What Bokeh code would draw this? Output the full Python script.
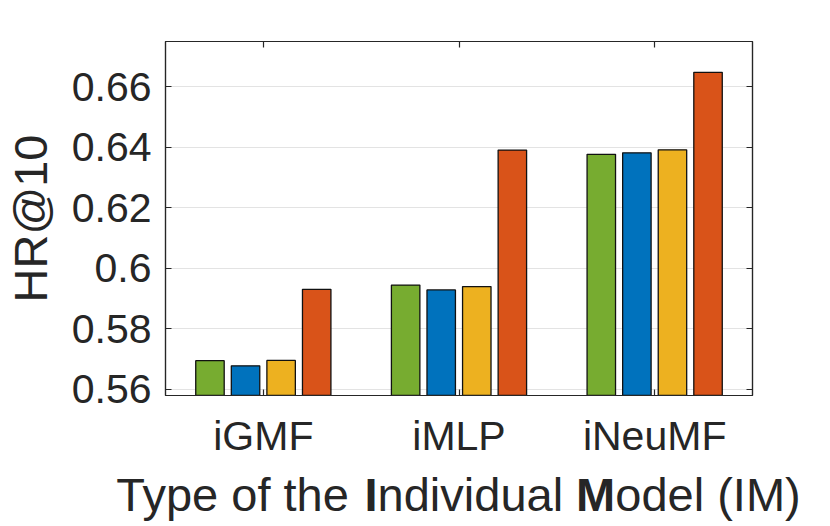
from bokeh.plotting import figure
from bokeh.layouts import column
from bokeh.models import (ColumnDataSource, Range1d, FixedTicker, LinearAxis,
                          CustomLabelingPolicy)
from bokeh.transform import dodge
from bokeh.embed import file_html
from bokeh.resources import INLINE
from bokeh.core.properties import value

# ---------------- data ----------------
categories = ["iGMF", "iMLP", "iNeuMF"]
series_names = ["Variant 1", "Variant 2", "Variant 3", "Variant 4"]
series_green = [0.5695, 0.5945, 0.6377]
series_blue = [0.5678, 0.5929, 0.6382]
series_yellow = [0.5696, 0.5940, 0.6392]
series_orange = [0.5931, 0.6391, 0.6648]
y_ticks = [0.56, 0.58, 0.60, 0.62, 0.64, 0.66]
y_tick_labels = ["0.56", "0.58", "0.6", "0.62", "0.64", "0.66"]
y_label = "HR@10"
x_label_parts = [("Type of the", "normal"), ("I", "bold"), ("ndividual", "normal"),
                 ("M", "bold"), ("odel (IM)", "normal")]

# ---------------- style / layout ----------------
colors = ["#77AC30", "#0072BD", "#EDB120", "#D95319"]
TXT = "#262626"
FONT = "Liberation Sans"
W, H = 830, 526
FL, FR, FT, FB = 164, 752, 41, 395      # frame edges in page pixels
H2 = 62                                  # strip below for the x-axis title
H1 = H - H2

idx = list(range(1, len(categories) + 1))
src = ColumnDataSource(dict(idx=idx, s0=series_green, s1=series_blue,
                            s2=series_yellow, s3=series_orange))

p = figure(width=W, height=H1, output_backend="svg", toolbar_location=None,
           x_range=Range1d(0.5, len(categories) + 0.5), y_range=Range1d(0.558, 0.675),
           min_border_left=FL, min_border_right=W - FR, min_border_top=FT,
           min_border_bottom=H1 - FB, background_fill_color="white",
           border_fill_color="white")
p.frame_align = False
p.outline_line_color = TXT
p.outline_line_width = 1.2

nb = 4
group_w = min(0.8, nb / (nb + 1.5))
spacing = group_w / nb
bar_w = 0.8 * spacing
for i, col in enumerate(["s0", "s1", "s2", "s3"]):
    p.vbar(x=dodge("idx", (i - (nb - 1) / 2) * spacing, range=p.x_range),
           top=col, bottom=0, width=bar_w, source=src, name=series_names[i],
           fill_color=colors[i], line_color="#111111", line_width=1.3)

xt = FixedTicker(ticks=idx)
yt = FixedTicker(ticks=y_ticks)

xa = p.xaxis[0]
xa.ticker = xt
xa.major_label_overrides = {k: v for k, v in zip(idx, categories)}
ya = p.yaxis[0]
ya.ticker = yt
ya.major_label_overrides = {k: v for k, v in zip(y_ticks, y_tick_labels)}
ya.axis_label = y_label
ya.axis_label_text_font = FONT
ya.axis_label_text_font_size = "47px"
ya.axis_label_text_font_style = "normal"
ya.axis_label_text_color = TXT
ya.axis_label_standoff = 12

for ax in (xa, ya):
    ax.major_tick_in = 6
    ax.major_tick_out = 0
    ax.minor_tick_line_color = None
    ax.axis_line_color = TXT
    ax.axis_line_width = 1.2
    ax.major_tick_line_color = TXT
    ax.major_tick_line_width = 1.2
    ax.major_label_text_font = FONT
    ax.major_label_text_color = TXT
    ax.major_label_text_font_size = "41px"
xa.major_label_standoff = 17
ya.major_label_standoff = 14

no_labels = CustomLabelingPolicy(code="for (const i of indices) { indices.unset(i) }\nreturn indices")
for place, tk in (("above", xt), ("right", yt)):
    box_ax = LinearAxis(ticker=tk, major_label_policy=no_labels, major_tick_in=6,
                        major_tick_out=0, minor_tick_line_color=None, axis_line_color=TXT,
                        axis_line_width=1.2, major_tick_line_color=TXT,
                        major_tick_line_width=1.2, major_label_standoff=0)
    p.add_layout(box_ax, place)

p.xgrid.grid_line_color = None
p.ygrid.ticker = yt
p.ygrid.grid_line_color = "#e3e3e3"
p.ygrid.grid_line_width = 1.2

# ---- x-axis title strip (mixed regular / bold runs) ----
p2 = figure(width=W, height=H2, output_backend="svg", toolbar_location=None,
            x_range=Range1d(0, W), y_range=Range1d(0, H2),
            min_border=0, min_border_left=0, min_border_right=0,
            min_border_top=0, min_border_bottom=0,
            x_axis_location=None, y_axis_location=None,
            background_fill_color="white", border_fill_color="white")
p2.title = None
p2.frame_align = False
p2.outline_line_color = None
p2.grid.grid_line_color = None

# advance widths of Arial / Liberation Sans, in em
adv = {"Type of the": 5.281, "I": 0.278, "ndividual": 4.224, "M": 0.833, "odel (IM)": 3.945}
FS = 47
total = sum(adv[t] for t, _ in x_label_parts)
center = (FL + FR) / 2
pos = center - total * FS / 2
baseline = 32
for t, st in x_label_parts:
    p2.text(x=[pos], y=[baseline], text=[t], text_align="left",
            text_baseline="alphabetic", text_font=value(FONT),
            text_font_style=st, text_font_size=f"{FS}px", text_color=TXT)
    pos += adv[t] * FS

layout = column(p, p2, spacing=0)
open("out.html", "w").write(file_html(layout, INLINE))
